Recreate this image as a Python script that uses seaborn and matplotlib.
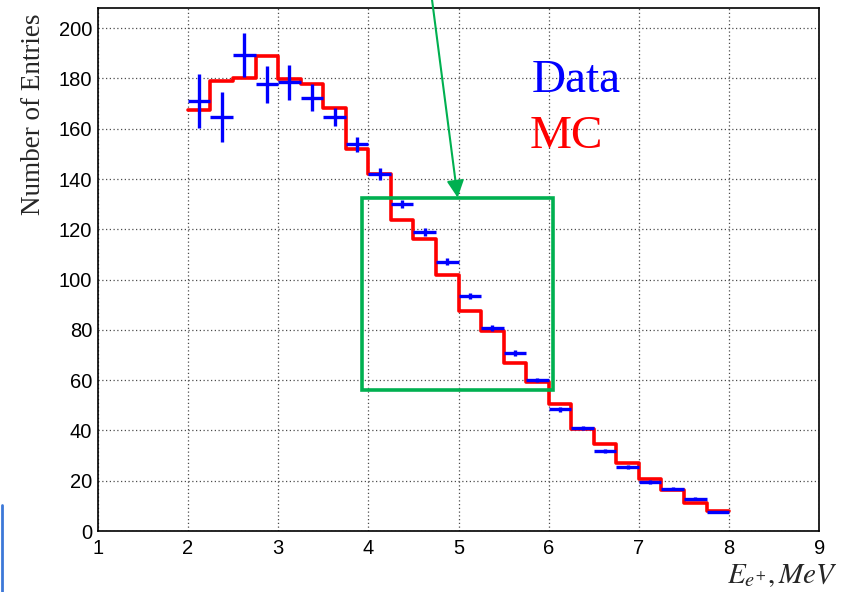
import numpy as np
import matplotlib
matplotlib.use("Agg")
import matplotlib.pyplot as plt
import seaborn as sns
from matplotlib.patches import Rectangle
from matplotlib.lines import Line2D
from matplotlib.ticker import MultipleLocator

# bin edges of the positron energy histogram (MeV)
bin_edges = [2.0, 2.25, 2.5, 2.75, 3.0, 3.25, 3.5, 3.75, 4.0, 4.25, 4.5, 4.75,
             5.0, 5.25, 5.5, 5.75, 6.0, 6.25, 6.5, 6.75, 7.0, 7.25, 7.5, 7.75, 8.0]

# measured counts and their errors
data_counts = [171.1, 164.7, 189.3, 177.6, 178.4, 172.3, 164.5, 153.8, 141.9, 130.1,
               118.9, 107.0, 93.5, 80.7, 70.7, 60.1, 48.4, 41.1, 31.9, 25.4,
               19.4, 16.8, 12.9, 7.6]
data_errors = [10.7, 10.1, 8.8, 7.5, 6.8, 5.3, 3.6, 3.1, 2.3, 1.5,
               1.45, 1.4, 1.1, 1.05, 1.1, 0.8, 0.9, 0.8, 0.8, 0.7,
               0.7, 0.6, 0.6, 0.5]

# simulated counts
mc_counts = [167.4, 178.8, 180.3, 188.9, 179.6, 177.7, 168.3, 151.8, 142.1, 123.6,
             116.2, 102.0, 87.7, 79.7, 66.9, 59.3, 50.4, 40.7, 34.6, 27.0,
             20.7, 16.4, 11.3, 8.0]

sns.set_theme(style="white")
plt.rcParams['font.family'] = ['Liberation Sans', 'DejaVu Sans']
plt.rcParams['mathtext.fontset'] = 'stix'

edges = np.array(bin_edges)
centers = (edges[:-1] + edges[1:]) / 2
half_w = (edges[1:] - edges[:-1]) / 2

fig = plt.figure(figsize=(8.46, 5.92), dpi=100)
ax = fig.add_axes([0.1155, 0.103, 0.853, 0.8843])

# MC as a step line
sns.lineplot(x=edges, y=list(mc_counts) + [mc_counts[-1]], drawstyle='steps-post',
             estimator=None, sort=False, color='#ff0000', lw=2.6, ax=ax, zorder=3)

# data as crosses
ax.errorbar(centers, data_counts, xerr=half_w, yerr=data_errors, fmt='none',
            ecolor='#0000ff', elinewidth=2.4, capsize=0, zorder=4)

ax.set_xlim(1, 9)
ax.set_ylim(0, 208.2)
ax.xaxis.set_major_locator(MultipleLocator(1))
ax.xaxis.set_minor_locator(MultipleLocator(0.2))
ax.yaxis.set_major_locator(MultipleLocator(20))
ax.yaxis.set_minor_locator(MultipleLocator(5))
ax.tick_params(axis='both', which='both', direction='in', colors='0.25',
               labelcolor='black', labelsize=14.5, width=1)
ax.tick_params(axis='x', which='major', length=13, pad=6)
ax.tick_params(axis='x', which='minor', length=6.5)
ax.tick_params(axis='y', which='major', length=16, pad=4)
ax.tick_params(axis='y', which='minor', length=7.5)
ax.grid(True, which='major', linestyle=(0, (1, 2)), color='0.3', lw=0.9)
for s in ax.spines.values():
    s.set_color('black')
    s.set_linewidth(1.2)
ax.set_xlabel('')
ax.set_ylabel('')

# highlighted region and arrow
green = '#00b050'
ax.add_patch(Rectangle((3.93, 56.1), 2.12, 76.2, fill=False, edgecolor=green,
                       lw=2.6, zorder=5))
ax.annotate('', xy=(4.99, 132.6), xytext=(4.70, 213),
            arrowprops=dict(arrowstyle='-|>', color=green, lw=1.5,
                            mutation_scale=26, shrinkA=0, shrinkB=0),
            annotation_clip=False, zorder=6)

# legend-like labels
fig.text(532 / 846, 1 - 92 / 592, 'Data', color='#0000ff', fontsize=34,
         family='Liberation Serif', va='baseline', ha='left')
fig.text(530 / 846, 1 - 148 / 592, 'MC', color='#ff0000', fontsize=34,
         family='Liberation Serif', va='baseline', ha='left')

fig.text(33 / 846, 1 - 114 / 592, 'Number of Entries', rotation=90,
         family='Liberation Serif', fontsize=19.5, ha='center', va='center')
fig.text(727 / 846, 1 - 583 / 592, r'$E_{e^{+}},MeV$', fontsize=21,
         ha='left', va='baseline')

fig.add_artist(Line2D([1.5 / 846, 1.5 / 846], [0, 1 - 505 / 592],
                      transform=fig.transFigure, color='#3c78d8', lw=2))

fig.savefig('out.png', dpi=100)
